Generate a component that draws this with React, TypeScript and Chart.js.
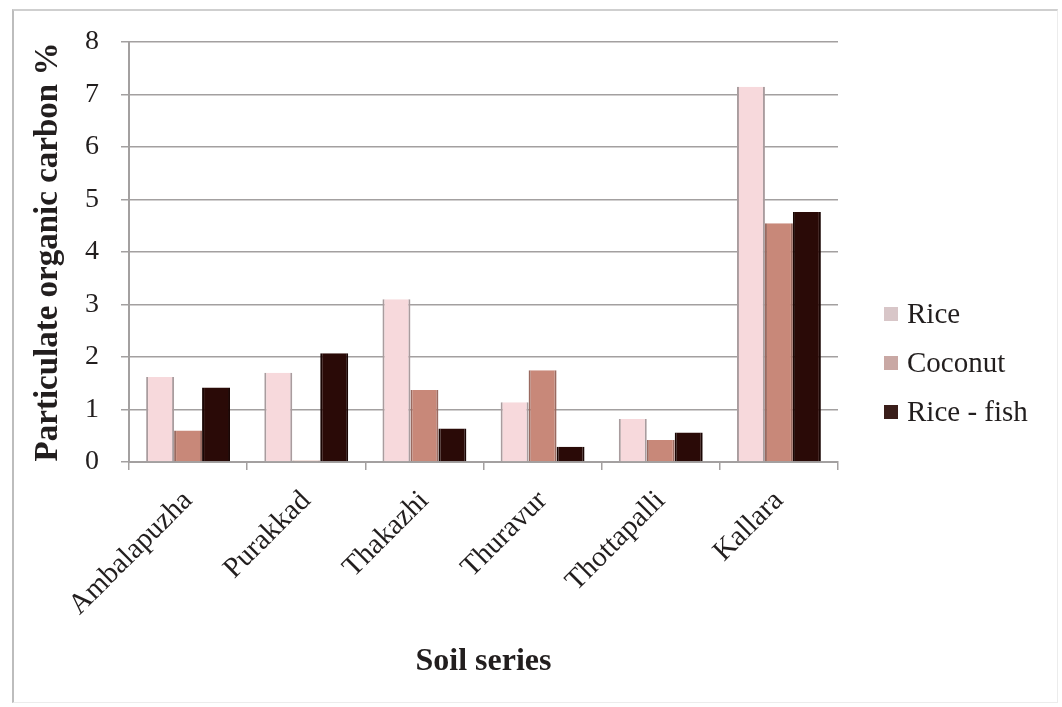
import React, { useEffect, useRef } from "react";
import { Chart, registerables } from "chart.js";

Chart.register(...registerables);

// Soil series (x categories) and particulate organic carbon (%) per land use
const soilSeries = ["Ambalapuzha", "Purakkad", "Thakazhi", "Thuravur", "Thottapalli", "Kallara"];
const rice = [1.62, 1.7, 3.1, 1.14, 0.82, 7.15];
const coconut = [0.6, 0.03, 1.37, 1.75, 0.42, 4.55];
const riceFish = [1.42, 2.07, 0.64, 0.29, 0.56, 4.76];

const seriesNames = ["Rice", "Coconut", "Rice - fish"];
const seriesFill = ["#f7d9dc", "#c88879", "#2a0a07"];
const seriesEdge = ["#a99c9e", "#9a6a60", "#1a0604"];
const legendSwatch = ["#d8c6c8", "#c9a8a4", "#3a1e1a"];

const yMin = 0;
const yMax = 8;
const yStep = 1;

const SERIF = "'Liberation Serif', 'Times New Roman', serif";
const TEXT = "#221e1e";
const GRID = "#a3a0a0";

// Legend drawn beside the plot, one row per dataset
const sideLegend = {
  id: "sideLegend",
  afterDraw(chart: any) {
    const { ctx, chartArea } = chart;
    const x0 = chartArea.right + 46;
    const firstY = chartArea.top + 272;
    const gap = 49;
    ctx.save();
    ctx.font = `29px ${SERIF}`;
    ctx.textBaseline = "middle";
    ctx.textAlign = "left";
    chart.data.datasets.forEach((ds: any, i: number) => {
      const cy = firstY + i * gap;
      ctx.fillStyle = legendSwatch[i];
      ctx.fillRect(x0, cy - 7, 14, 14);
      ctx.fillStyle = TEXT;
      ctx.fillText(ds.label, x0 + 23, cy + 1);
    });
    ctx.restore();
  },
};

export default function App() {
  const canvasRef = useRef<HTMLCanvasElement | null>(null);

  useEffect(() => {
    if (!canvasRef.current) return;
    const values = [rice, coconut, riceFish];
    const chart = new Chart(canvasRef.current, {
      type: "bar",
      data: {
        labels: soilSeries,
        datasets: values.map((v, i) => ({
          label: seriesNames[i],
          data: v,
          backgroundColor: seriesFill[i],
          borderColor: seriesEdge[i],
          borderWidth: { left: 2, right: 2, top: 0, bottom: 0 },
          borderSkipped: false,
          categoryPercentage: 0.71,
          barPercentage: 1,
        })),
      },
      options: {
        animation: false,
        responsive: true,
        maintainAspectRatio: false,
        layout: { padding: { top: 42, left: 10, right: 224, bottom: 20 } },
        plugins: {
          legend: { display: false },
          tooltip: { enabled: false },
        },
        scales: {
          x: {
            offset: true,
            afterFit: (scale: any) => {
              scale.height = 225;
            },
            grid: {
              display: true,
              drawOnChartArea: false,
              drawTicks: true,
              tickLength: 8,
              color: GRID,
              lineWidth: 1.5,
            },
            border: { display: true, color: GRID, width: 2 },
            ticks: {
              color: TEXT,
              font: { family: SERIF, size: 29 },
              maxRotation: 45,
              minRotation: 45,
              padding: 14,
            },
            title: {
              display: true,
              text: "Soil series",
              color: TEXT,
              font: { family: SERIF, size: 32, weight: "bold" },
              padding: { top: 0, bottom: 6 },
            },
          },
          y: {
            min: yMin,
            max: yMax,
            afterFit: (scale: any) => {
              scale.width = 119;
            },
            grid: {
              color: GRID,
              lineWidth: 1.5,
              tickLength: 8,
            },
            border: { display: true, color: GRID, width: 2 },
            ticks: {
              stepSize: yStep,
              color: TEXT,
              font: { family: SERIF, size: 28 },
              padding: 22,
            },
            title: {
              display: true,
              text: "Particulate organic carbon %",
              color: TEXT,
              font: { family: SERIF, size: 33, weight: "bold" },
              padding: { top: 19, bottom: 0 },
            },
          },
        },
      },
      plugins: [sideLegend],
    });
    return () => chart.destroy();
  }, []);

  return (
    <div style={{ position: "fixed", left: 0, top: 0, width: 1062, height: 707, background: "#ffffff" }}>
      <canvas ref={canvasRef} />
      <div
        style={{
          position: "absolute",
          left: 12,
          top: 9,
          right: 4,
          bottom: 4,
          borderTop: "2px solid #cfcfcf",
          borderLeft: "2px solid #bdbdbd",
          borderRight: "1px solid #ececec",
          borderBottom: "1px solid #ececec",
          pointerEvents: "none",
        }}
      />
    </div>
  );
}
